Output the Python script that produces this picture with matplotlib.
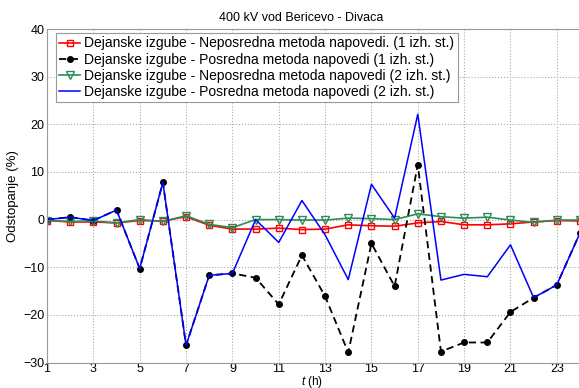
import numpy as np
import matplotlib
matplotlib.use("Agg")
import matplotlib.pyplot as plt

plt.rcParams['font.family'] = ['Liberation Sans', 'DejaVu Sans']
plt.rcParams['mathtext.fontset'] = 'custom'
plt.rcParams['mathtext.it'] = 'Liberation Sans:italic'
plt.rcParams['mathtext.rm'] = 'Liberation Sans'

#%% data
hours = list(range(1, 25))

neposredna_1 = [-0.2, -0.5, -0.5, -0.7, -0.2, -0.3, 0.6, -1.2, -2.0, -2.0, -1.8, -2.1,
                -2.0, -1.1, -1.3, -1.4, -0.7, -0.4, -1.1, -1.1, -0.9, -0.5, -0.2, -0.3]
posredna_1 = [0.0, 0.5, -0.2, 2.0, -10.3, 7.8, -26.4, -11.7, -11.3, -12.2, -17.8, -7.5,
              -16.1, -27.9, -5.0, -14.0, 11.5, -27.7, -25.8, -25.8, -19.4, -16.4, -13.7, -2.8]
neposredna_2 = [-0.2, -0.4, -0.3, -0.7, 0.0, -0.4, 0.8, -1.0, -1.7, 0.0, 0.0, -0.1,
                -0.1, 0.3, 0.2, 0.0, 1.2, 0.6, 0.3, 0.5, -0.1, -0.6, -0.1, -0.1]
posredna_2 = [0.0, 0.5, -0.2, 2.0, -10.3, 7.8, -26.4, -11.7, -11.3, 0.0, -4.8, 4.0,
              -3.2, -12.6, 7.4, 0.3, 22.1, -12.7, -11.5, -12.0, -5.3, -16.4, -13.7, -2.8]

labels = ["Dejanske izgube - Neposredna metoda napovedi. (1 izh. st.)",
          "Dejanske izgube - Posredna metoda napovedi (1 izh. st.)",
          "Dejanske izgube - Neposredna metoda napovedi (2 izh. st.)",
          "Dejanske izgube - Posredna metoda napovedi (2 izh. st.)"]

x_ticks = list(range(1, 24, 2))
y_ticks = list(range(-30, 41, 10))

#%% plotting
W, H = 579, 388
fig = plt.figure(figsize=(W / 100, H / 100), dpi=100)
ax = fig.add_axes([47 / W, (H - 362.5) / H, (580 - 47) / W, (362.5 - 29) / H])

ax.plot(hours, neposredna_1, '-', color='red', lw=1.2, marker='s', ms=4.5,
        mfc='none', mec='red', mew=1.0, label=labels[0])
ax.plot(hours, posredna_1, '--', color='black', lw=1.3, marker='o', ms=4,
        dashes=(4, 2.5), label=labels[1])
ax.plot(hours, neposredna_2, '-', color='#2e8b57', lw=1.2, marker='v', ms=5.5,
        mfc='none', mec='#2e8b57', mew=1.0, label=labels[2])
ax.plot(hours, posredna_2, '-', color='blue', lw=1.1, label=labels[3])

ax.set_xlim(1, 24)
ax.set_ylim(-30, 40)
ax.set_xticks(x_ticks)
ax.set_yticks(y_ticks)
ax.tick_params(labelsize=9, length=0)
ax.tick_params(axis='x', pad=0.5)
ax.tick_params(axis='y', pad=2)
ax.grid(True, ls=':', color='#aaaaaa', lw=0.8)
for s in ax.spines.values():
    s.set_color('#999999')

# x label placed by hand, the figure is tight at the bottom
fig.text(312 / W, 1 - 381.5 / H, r'$t$ (h)', fontsize=8.5, ha='center', va='center')
ax.set_ylabel('Odstopanje (%)', fontsize=9.5, labelpad=3)
ax.set_title('400 kV vod Bericevo - Divaca', fontsize=9, x=0.477, pad=6)

leg = ax.legend(loc='upper left', bbox_to_anchor=(56 / W, 1 - 33 / H),
                bbox_transform=fig.transFigure, fontsize=10, fancybox=False,
                framealpha=1, edgecolor='#999999', handlelength=1.5,
                handletextpad=0.3, borderpad=0.25, labelspacing=0.15,
                borderaxespad=0)
leg.get_frame().set_linewidth(0.8)

fig.savefig("out.png", dpi=100)
